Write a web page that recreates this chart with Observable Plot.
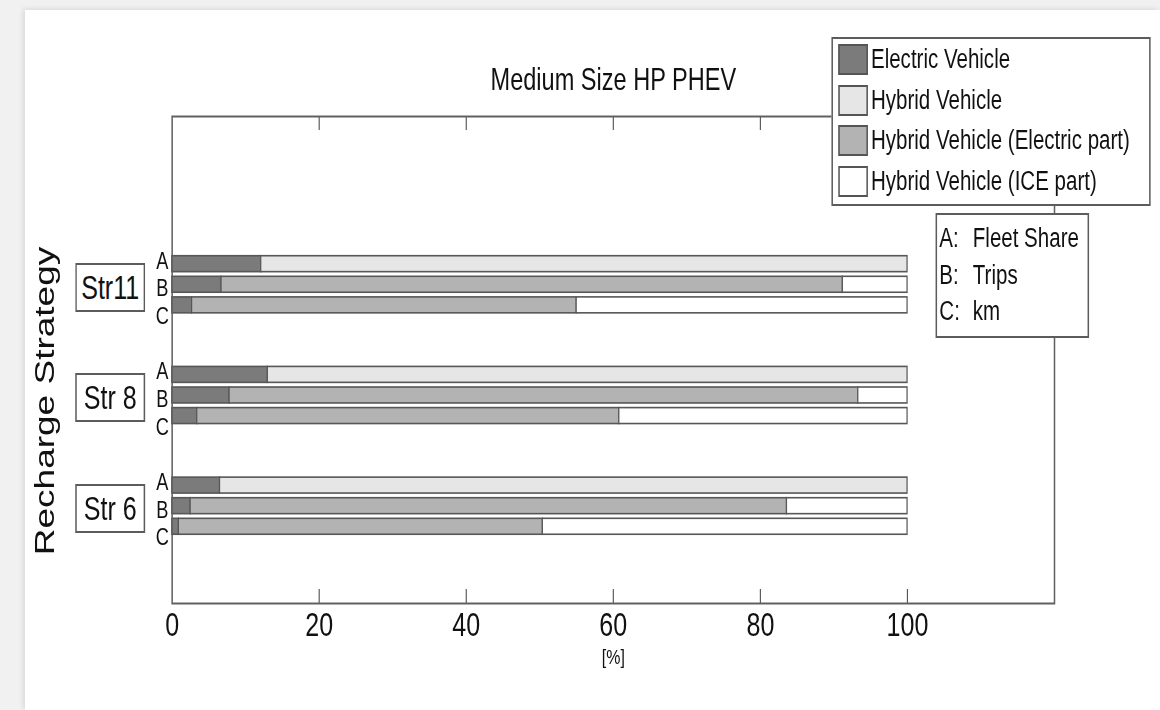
<!DOCTYPE html>
<html>
<head>
<meta charset="utf-8">
<script src="https://cdn.jsdelivr.net/npm/d3@7"></script>
<script src="https://cdn.jsdelivr.net/npm/@observablehq/plot@0.6"></script>
<style>
  html, body { margin:0; padding:0; width:1160px; height:710px; overflow:hidden; background:#f1f1f1;
    font-family:"Liberation Sans", Arial, Helvetica, sans-serif; }
  #panel { position:absolute; left:25px; top:10px; width:1135px; height:700px; background:#fff;
    box-shadow:-2px -1px 5px rgba(0,0,0,0.10); }
  #stage { position:absolute; left:0; top:0; width:1526px; height:710px; transform:scaleX(0.76); transform-origin:0 0; }
  #stage svg { position:absolute; left:0; top:0; }
  .box { position:absolute; background:#fff; border:2px solid #5c5c5c; box-sizing:border-box; color:#111; }
  .strat { left:99px; width:92px; height:49px; font-size:33px; line-height:45px; text-align:center; }
  .lrow { position:absolute; left:7px; height:31px; display:flex; align-items:center; font-size:27px; white-space:nowrap; }
  .sw { width:39px; height:31px; box-sizing:border-box; border:2px solid #555; margin-right:4px; }
  .mrow { position:absolute; left:3px; height:37px; line-height:37px; font-size:27px; white-space:nowrap; }
  .mrow span { display:inline-block; width:44px; }
</style>
</head>
<body>
<div id="panel"></div>
<div id="stage"></div>
<script>
// ---- data ----
const strategies = ["Str11", "Str 8", "Str 6"];
const measures = ["A", "B", "C"];
const measureNames = ["Fleet Share", "Trips", "km"];
const seriesNames = ["Electric Vehicle", "Hybrid Vehicle", "Hybrid Vehicle (Electric part)", "Hybrid Vehicle (ICE part)"];
const seriesColors = ["#7b7b7b", "#e6e6e6", "#b3b3b3", "#ffffff"];
// shares in %, per strategy, for measures [A, B, C]
const electricVehicle    = [[12.1, 6.7, 2.7], [13.0, 7.8, 3.4], [6.5, 2.5, 0.9]];
const hybridVehicle      = [[87.9, null, null], [87.0, null, null], [93.5, null, null]];
const hybridElectricPart = [[null, 84.5, 52.3], [null, 85.5, 57.4], [null, 81.1, 49.5]];
const hybridIcePart      = [[null, 8.8, 45.0], [null, 6.7, 39.2], [null, 16.4, 49.6]];
const xTicks = [0, 20, 40, 60, 80, 100];
const title = "Medium Size HP PHEV";
const xLabel = "[%]";
const yLabel = "Recharge Strategy";

// ---- build stacked segments ----
const seriesValues = [electricVehicle, hybridVehicle, hybridElectricPart, hybridIcePart];
const step = 0.186, half = 0.072;
const segments = [];
strategies.forEach((s, si) => {
  measures.forEach((m, mi) => {
    let cum = 0;
    seriesValues.forEach((arr, k) => {
      const v = arr[si][mi];
      if (v == null) return;
      segments.push({strategy: s, measure: m, series: seriesNames[k], x1: cum, x2: cum + v,
                     pos: si + 1 + (mi - 1) * step});
      cum += v;
    });
  });
});

const plot = Plot.plot({
  width: 1526, height: 710,
  marginLeft: 226, marginRight: 139, marginTop: 116, marginBottom: 107,
  style: {fontFamily: "Liberation Sans, Arial, sans-serif", background: "transparent", color: "#111", overflow: "visible"},
  x: {domain: [0, 120]},
  y: {domain: [-0.52, 3.879], reverse: true, axis: null},
  color: {type: "ordinal", domain: seriesNames, range: seriesColors},
  marks: [
    Plot.rectX(segments, {x1: "x1", x2: "x2", y1: d => d.pos - half, y2: d => d.pos + half,
      fill: "series", stroke: "#575757", strokeWidth: 1.6}),
    Plot.tickX(xTicks.filter(v => v > 0), {x: d => d, insetTop: 473, stroke: "#555", strokeWidth: 1.5}),
    Plot.tickX(xTicks.filter(v => v > 0), {x: d => d, insetBottom: 473, stroke: "#555", strokeWidth: 1.5}),
    Plot.frame({stroke: "#606060", strokeWidth: 2}),
    Plot.axisX({ticks: xTicks, tickSize: 0, tickPadding: 9, fontSize: 33, label: null}),
    Plot.text(strategies, {x: 0, y: (d, i) => i + 1 + 0.025, text: () => measures.join("\n"),
      dx: -13, fontSize: 24, lineHeight: 1.15, textAnchor: "middle", lineAnchor: "middle", fill: "#111"}),
    Plot.text([title], {text: d => d, frameAnchor: "top", dy: -36, fontSize: 31, textAnchor: "middle", lineAnchor: "middle", fill: "#111"}),
    Plot.text([xLabel], {text: d => d, frameAnchor: "bottom", dy: 54, fontSize: 21, textAnchor: "middle", lineAnchor: "middle", fill: "#111"}),
    Plot.text([yLabel], {text: d => d, frameAnchor: "left", rotate: -90, dx: -167, dy: 41, fontSize: 37, textAnchor: "middle", lineAnchor: "middle", fill: "#111"})
  ]
});

const stage = document.getElementById("stage");
stage.appendChild(plot);

// strategy boxes positioned with the plot's y scale
const ys = plot.scale("y");
strategies.forEach((s, i) => {
  const d = document.createElement("div");
  d.className = "box strat";
  d.style.top = (ys.apply(i + 1) + 3 - 24.5) + "px";
  d.textContent = s;
  stage.appendChild(d);
});

// series legend
const leg = document.createElement("div");
leg.className = "box";
Object.assign(leg.style, {left: "1094px", top: "37px", width: "420px", height: "169px"});
seriesNames.forEach((n, i) => {
  const r = document.createElement("div");
  r.className = "lrow";
  r.style.top = (5 + i * 40.7) + "px";
  const sw = document.createElement("div");
  sw.className = "sw";
  sw.style.background = seriesColors[i];
  const t = document.createElement("div");
  t.textContent = n;
  r.appendChild(sw); r.appendChild(t);
  leg.appendChild(r);
});
stage.appendChild(leg);

// measure key
const key = document.createElement("div");
key.className = "box";
Object.assign(key.style, {left: "1231px", top: "213px", width: "202px", height: "125px"});
measures.forEach((m, i) => {
  const r = document.createElement("div");
  r.className = "mrow";
  r.style.top = (5 + i * 36.5) + "px";
  const a = document.createElement("span");
  a.textContent = m + ":";
  r.appendChild(a);
  r.appendChild(document.createTextNode(measureNames[i]));
  key.appendChild(r);
});
stage.appendChild(key);
</script>
</body>
</html>
